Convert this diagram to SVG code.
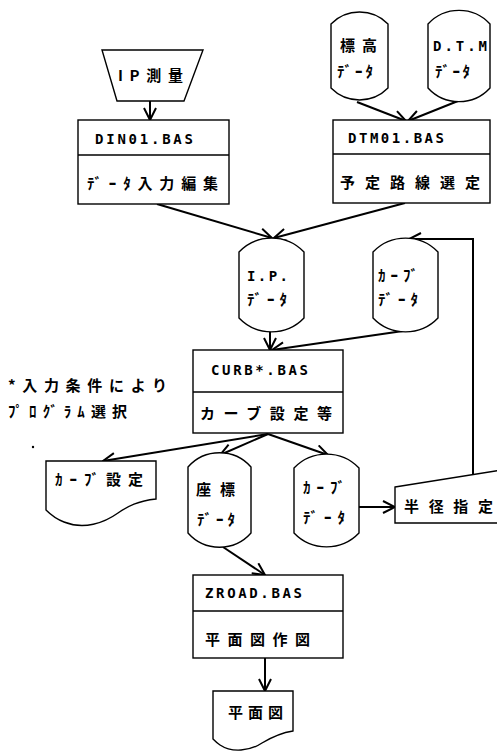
<svg xmlns="http://www.w3.org/2000/svg" width="497" height="752" viewBox="0 0 497 752">
<style>
.shape{fill:#fff;stroke:#000;stroke-width:1.4}
.div{stroke:#000;stroke-width:1.3}
.t{font-family:"Noto Sans CJK JP","DejaVu Sans",sans-serif;font-weight:bold;font-size:15px;fill:#000}
.m{font-family:"DejaVu Sans Mono","Noto Sans CJK JP",monospace;font-weight:bold;font-size:14px;fill:#000}
.c{fill:none;stroke:#000;stroke-width:2}
</style>
<defs>
<marker id="ah" markerUnits="userSpaceOnUse" markerWidth="14" markerHeight="14" viewBox="0 0 14 14" refX="13" refY="7" orient="auto">
<path d="M1,1 L13,7 L1,13" fill="none" stroke="#000" stroke-width="2"/>
</marker>
</defs>
<rect width="497" height="752" fill="#fff"/>

<g id="connectors">
<line class="c" x1="150" y1="101" x2="150" y2="120" marker-end="url(#ah)"/>
<line class="c" x1="357" y1="102" x2="406" y2="121" marker-end="url(#ah)"/>
<line class="c" x1="458" y1="101" x2="408" y2="121" marker-end="url(#ah)"/>
<line class="c" x1="157" y1="204" x2="272" y2="238" marker-end="url(#ah)"/>
<line class="c" x1="405" y1="203" x2="274" y2="238" marker-end="url(#ah)"/>
<line class="c" x1="270" y1="332" x2="270" y2="350" marker-end="url(#ah)"/>
<line class="c" x1="403" y1="331" x2="272" y2="350" marker-end="url(#ah)"/>
<polyline class="c" points="473,475 473,239 409,239" marker-end="url(#ah)"/>
<line class="c" x1="268" y1="434" x2="103" y2="461" marker-end="url(#ah)"/>
<line class="c" x1="268" y1="434" x2="220" y2="455" marker-end="url(#ah)"/>
<line class="c" x1="268" y1="434" x2="328" y2="455" marker-end="url(#ah)"/>
<line class="c" x1="359" y1="507" x2="395" y2="507" marker-end="url(#ah)"/>
<line class="c" x1="223" y1="547" x2="265" y2="575" marker-end="url(#ah)"/>
<line class="c" x1="265" y1="658" x2="265" y2="691" marker-end="url(#ah)"/>
</g>

<g id="ip-survey">
<path class="shape" d="M102,50 L203,50 L184,101 L117,101 Z"/>
<text class="t" x="118" y="81" textLength="65" lengthAdjust="spacing">IP測量</text>
</g>

<g id="din01">
<rect class="shape" x="78" y="120" width="151" height="84"/>
<line class="div" x1="78" y1="155" x2="229" y2="155"/>
<text class="m" x="95" y="144" textLength="98" lengthAdjust="spacing">DIN01.BAS</text>
<text class="t" x="87" y="189" textLength="131" lengthAdjust="spacing">ﾃﾞｰﾀ入力編集</text>
</g>

<g id="elev-data">
<path class="shape" d="M331,24 A40,40 0 0 1 388,24 L388,88 A40,40 0 0 1 331,88 Z"/>
<text class="t" x="340" y="51" textLength="37" lengthAdjust="spacing">標高</text>
<text class="t" x="337" y="77" textLength="36" lengthAdjust="spacing">ﾃﾞｰﾀ</text>
</g>

<g id="dtm-data">
<path class="shape" d="M428,24 A42,42 0 0 1 490,24 L490,88 A42,42 0 0 1 428,88 Z"/>
<text class="m" x="433" y="51" textLength="54" lengthAdjust="spacing">D.T.M</text>
<text class="t" x="435" y="77" textLength="35" lengthAdjust="spacing">ﾃﾞｰﾀ</text>
</g>

<g id="dtm01">
<rect class="shape" x="333" y="120" width="157" height="83"/>
<line class="div" x1="333" y1="154" x2="490" y2="154"/>
<text class="m" x="348" y="143" textLength="96" lengthAdjust="spacing">DTM01.BAS</text>
<text class="t" x="340" y="188" textLength="140" lengthAdjust="spacing">予定路線選定</text>
</g>

<g id="ip-data">
<path class="shape" d="M239,252 A45,45 0 0 1 304,252 L304,318 A45,45 0 0 1 239,318 Z"/>
<text class="m" x="247" y="281" textLength="41" lengthAdjust="spacing">I.P.</text>
<text class="t" x="247" y="305" textLength="40" lengthAdjust="spacing">ﾃﾞｰﾀ</text>
</g>

<g id="curve-data-1">
<path class="shape" d="M373,252 A45,45 0 0 1 438,252 L438,318 A45,45 0 0 1 373,318 Z"/>
<text class="t" x="378" y="281" textLength="40" lengthAdjust="spacing">ｶｰﾌﾞ</text>
<text class="t" x="378" y="305" textLength="40" lengthAdjust="spacing">ﾃﾞｰﾀ</text>
</g>

<g id="note">
<text class="t" x="8" y="391" textLength="159" lengthAdjust="spacing">*入力条件により</text>
<text class="t" x="8" y="417" textLength="119" lengthAdjust="spacing">ﾌﾟﾛｸﾞﾗﾑ選択</text>
<circle cx="33" cy="447" r="1.2" fill="#000"/>
</g>

<g id="curb">
<rect class="shape" x="193" y="350" width="150" height="83"/>
<line class="div" x1="193" y1="392" x2="343" y2="392"/>
<text class="m" x="211" y="375" textLength="97" lengthAdjust="spacing">CURB*.BAS</text>
<text class="t" x="200" y="419" textLength="132" lengthAdjust="spacing">カーブ設定等</text>
</g>

<g id="curve-setting-doc">
<path class="shape" d="M46,461 L156,461 L156,499 C138,501 128,506 118,513 C104,523 84,530 64,522 C56,519 50,514 46,510 Z"/>
<text class="t" x="55" y="485" textLength="88" lengthAdjust="spacing">ｶｰﾌﾞ設定</text>
</g>

<g id="coord-data">
<path class="shape" d="M188,467 A42,42 0 0 1 251,467 L251,533 A42,42 0 0 1 188,533 Z"/>
<text class="t" x="196" y="495" textLength="39" lengthAdjust="spacing">座標</text>
<text class="t" x="197" y="525" textLength="38" lengthAdjust="spacing">ﾃﾞｰﾀ</text>
</g>

<g id="curve-data-2">
<path class="shape" d="M294,468 A45,45 0 0 1 359,468 L359,533 A45,45 0 0 1 294,533 Z"/>
<text class="t" x="303" y="493" textLength="42" lengthAdjust="spacing">ｶｰﾌﾞ</text>
<text class="t" x="303" y="523" textLength="42" lengthAdjust="spacing">ﾃﾞｰﾀ</text>
</g>

<g id="radius-input">
<path class="shape" d="M395,487 L502,470 L502,523 L395,523 Z"/>
<text class="t" x="404" y="512" textLength="89" lengthAdjust="spacing">半径指定</text>
</g>

<g id="zroad">
<rect class="shape" x="193" y="575" width="150" height="83"/>
<line class="div" x1="193" y1="611" x2="343" y2="611"/>
<text class="m" x="205" y="598" textLength="97" lengthAdjust="spacing">ZROAD.BAS</text>
<text class="t" x="205" y="645" textLength="105" lengthAdjust="spacing">平面図作図</text>
</g>

<g id="plan-doc">
<path class="shape" d="M213,691 L293,691 L293,731 C280,733 272,737 262,743 C250,751 232,753 220,745 C217,743 215,741 213,739 Z"/>
<text class="t" x="228" y="718" textLength="55" lengthAdjust="spacing">平面図</text>
</g>
</svg>
